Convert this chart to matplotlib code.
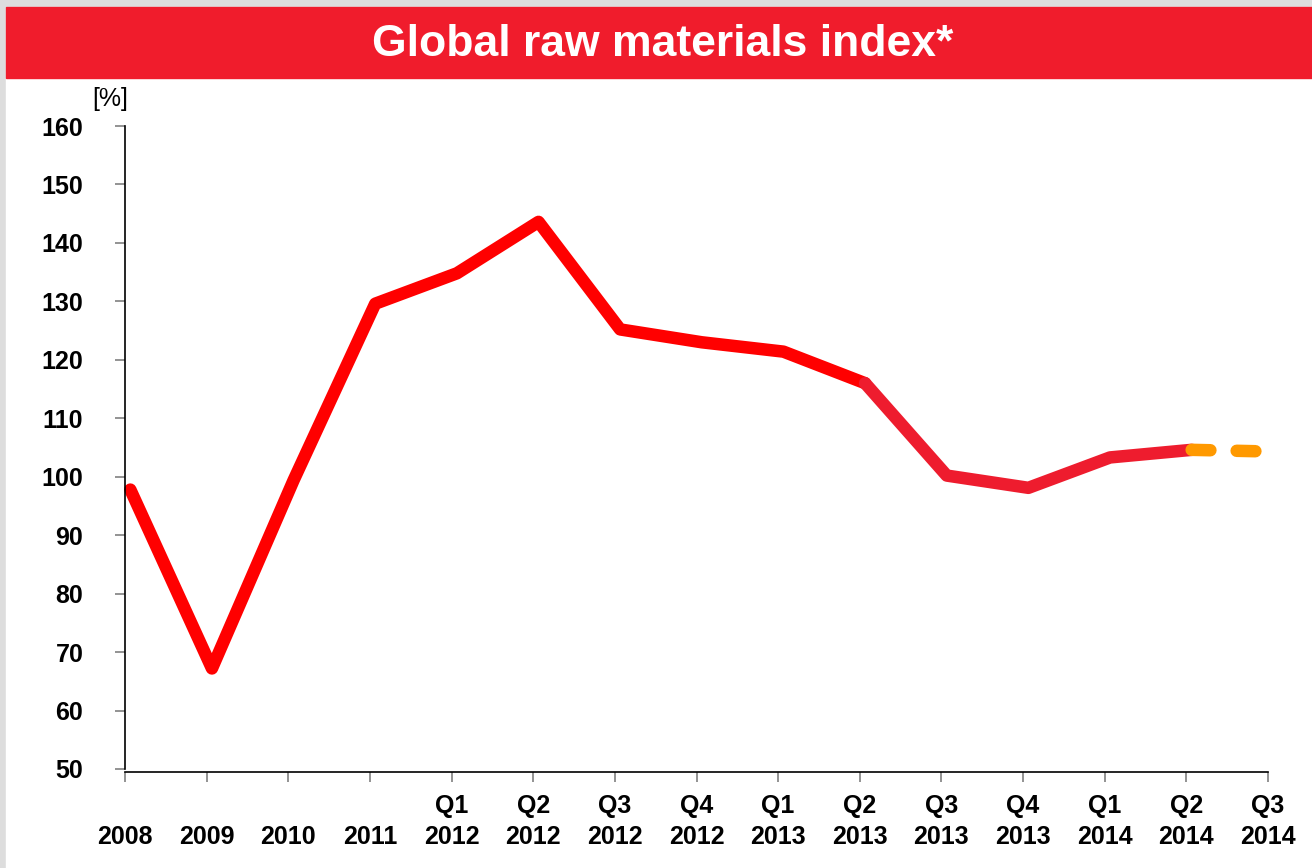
import numpy as np
import matplotlib.pyplot as plt
from matplotlib.patches import Rectangle

plt.rcParams['font.family'] = ['Liberation Sans', 'DejaVu Sans']
plt.rcParams['font.weight'] = 'bold'

# raw materials index, yearly then quarterly
years = ['2008', '2009', '2010', '2011', '2012', '2012', '2012', '2012',
         '2013', '2013', '2013', '2013', '2014', '2014', '2014']
quarters = ['', '', '', '', 'Q1', 'Q2', 'Q3', 'Q4',
            'Q1', 'Q2', 'Q3', 'Q4', 'Q1', 'Q2', 'Q3']
index_vals = [97.8, 67.2, 99.4, 129.6, 134.8, 143.6, 125.2, 123.0,
              121.4, 116.0, 100.2, 98.1, 103.3, 104.6, 104.3]
n_actual = 14        # last value is a forecast
n_first = 10         # points drawn in the first (pure red) colour

RED = '#ff0000'
CRIMSON = '#ee1c2e'
ORANGE = '#ff9900'

W, H = 1312, 868
fig = plt.figure(figsize=(W / 100, H / 100), dpi=100, facecolor='#dddddd')

# white page and red title band, kept behind the axes
fig.patches.append(Rectangle((6 / W, 0), 1 - 6 / W, 1 - 7 / H,
                             transform=fig.transFigure, color='white', zorder=-2))
fig.patches.append(Rectangle((6 / W, 1 - 78 / H), 1 - 6 / W, 71 / H,
                             transform=fig.transFigure, color='#f01c2c', zorder=-1))
fig.text(663 / W, 1 - 44 / H, 'Global raw materials index*',
         color='white', fontsize=32, fontweight='bold', ha='center', va='center')

ax = fig.add_axes([125 / W, 1 - 769 / H, (1268 - 125) / W, (769 - 126) / H])
ax.set_facecolor('none')

x = np.arange(len(index_vals)) + 0.065
lw = 9.0
kw = dict(lw=lw, solid_capstyle='round', solid_joinstyle='round', clip_on=False)
ax.plot(x[:n_first], index_vals[:n_first], color=RED, **kw)
ax.plot(x[n_first - 1:n_actual], index_vals[n_first - 1:n_actual], color=CRIMSON, **kw)
ax.plot(x[n_actual - 1:], index_vals[n_actual - 1:], color=ORANGE, lw=lw,
        dashes=(1.5, 2.1), dash_capstyle='round', clip_on=False)

ax.set_xlim(0, len(years) - 1)
ax.set_ylim(50, 160)
ax.set_yticks(np.arange(50, 161, 10))

# years on the major ticks, quarter names one row above on minor ticks
ax.xaxis.remove_overlapping_locs = False
ax.set_xticks(np.arange(len(years)))
ax.set_xticklabels(years)
ax.set_xticks(np.arange(len(quarters)), minor=True)
ax.set_xticklabels(quarters, minor=True)

ax.tick_params(axis='y', labelsize=18, length=7, width=1.2, color='#808080', pad=23)
ax.tick_params(axis='x', which='major', labelsize=18, length=7, width=1.2,
               color='#808080', pad=31)
ax.tick_params(axis='x', which='minor', labelsize=18, length=0, pad=16)

ax.spines['top'].set_visible(False)
ax.spines['right'].set_visible(False)
ax.spines['bottom'].set_position(('outward', 2))
ax.spines['left'].set_linewidth(1.2)
ax.spines['bottom'].set_linewidth(1.2)

fig.text(110 / W, 1 - 99 / H, '[%]', fontsize=18, fontweight='normal',
         ha='center', va='center')

fig.savefig('out.png', dpi=100, facecolor=fig.get_facecolor())
